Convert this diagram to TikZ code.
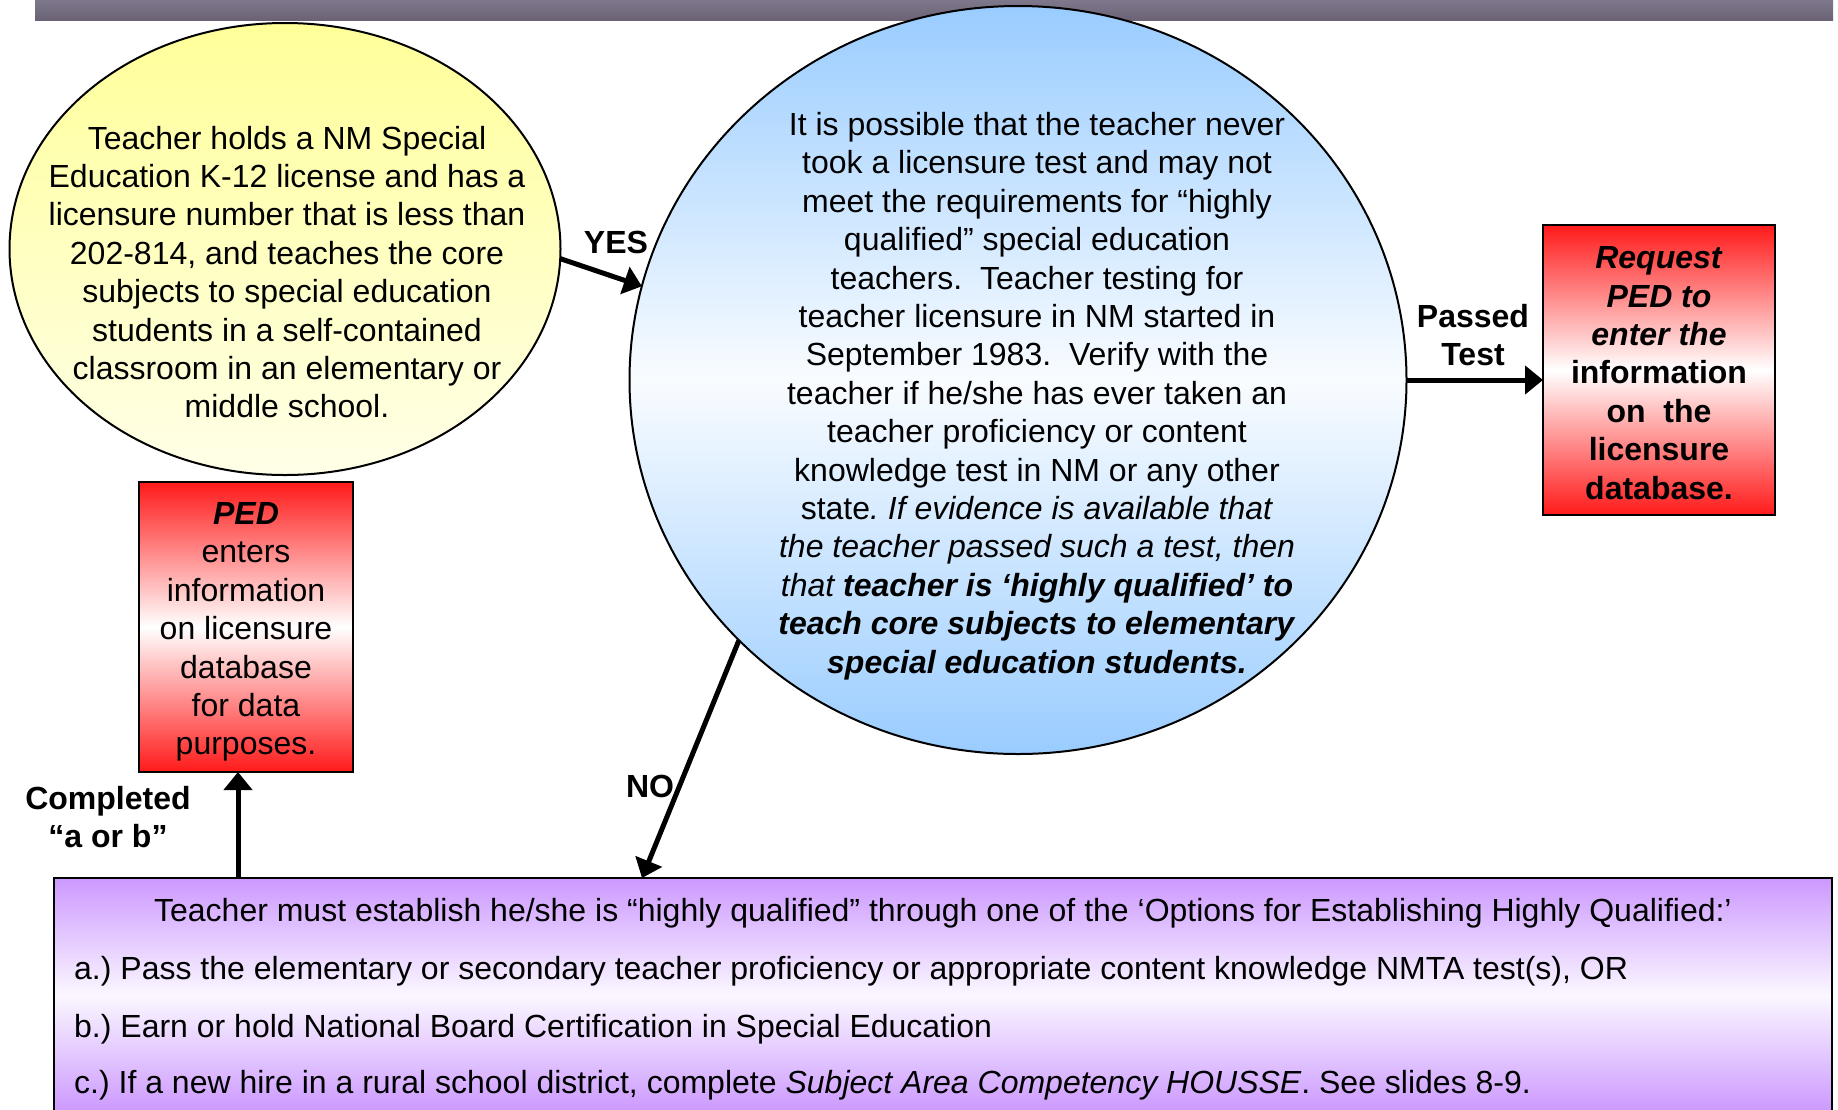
\documentclass[tikz,border=0pt]{standalone}
\usepackage{fontspec}
\setmainfont{Liberation Sans}
\usetikzlibrary{shapes.geometric,arrows.meta}
\definecolor{barTop}{HTML}{7F778B}
\definecolor{barBot}{HTML}{6B6375}
\definecolor{yelTop}{HTML}{FFFF99}
\definecolor{yelBot}{HTML}{FFFFE8}
\definecolor{bluFill}{HTML}{99CCFF}
\definecolor{redFill}{HTML}{FF1A1A}
\definecolor{purpFill}{HTML}{CC99FF}
\frenchspacing
\begin{document}
\begin{tikzpicture}[x=1pt,y=-1pt,
  txt/.style={font=\fontsize{32}{38.4}\selectfont, align=center, inner sep=0pt, outer sep=0pt},
  lbl/.style={font=\fontsize{32}{38.4}\selectfont\bfseries, align=center, inner sep=0pt},
  linetxt/.style={font=\fontsize{32}{38.4}\selectfont, inner sep=0pt},
  arr/.style={line width=5pt, -{Triangle[length=18pt,width=28pt]}},
  redbox/.style={rectangle, draw=black, line width=2.5pt, top color=redFill, bottom color=redFill, middle color=white, inner sep=0pt, outer sep=0pt}]
\useasboundingbox (0,0) rectangle (1838,1109);
% top bar
\node[rectangle, minimum width=1798pt, minimum height=20pt, top color=barTop, bottom color=barBot, inner sep=0pt, outer sep=0pt] (bar) at (934,10) {};
% yellow ellipse
\node[ellipse, draw=black, line width=2pt, minimum width=551pt, minimum height=452pt, top color=yelTop, bottom color=yelBot, inner sep=0pt, outer sep=0pt] (yel) at (285,249) {};
\node[txt] (yeltext) at (287,272) {Teacher holds a NM Special\\ Education K-12 license and has a\\ licensure number that is less than\\ 202-814, and teaches the core\\ subjects to special education\\ students in a self-contained\\ classroom in an elementary or\\ middle school.};
% blue circle
\node[ellipse, draw=black, line width=2pt, minimum width=777pt, minimum height=748pt, top color=bluFill, bottom color=bluFill, middle color=bluFill!6, inner sep=0pt, outer sep=0pt] (circ) at (1018,380) {};
\node[txt] (circtext) at (1037,396) {It is possible that the teacher never\\ took a licensure test and may not\\ meet the requirements for “highly\\ qualified” special education\\ teachers.\ \ Teacher testing for\\ teacher licensure in NM started in\\ September 1983.\ \ Verify with the\\ teacher if he/she has ever taken an\\ teacher proficiency or content\\ knowledge test in NM or any other\\ state\textit{. If evidence is available that}\\ \textit{the teacher passed such a test, then}\\ \textit{that \textbf{teacher is ‘highly qualified’ to}}\\ \textbf{\textit{teach core subjects to elementary}}\\ \textbf{\textit{special education students.}}};
% red boxes
\node[redbox, minimum width=232pt, minimum height=290pt] (reqbox) at (1659,370) {};
\node[txt] (reqtext) at (1659,373) {\textbf{\textit{Request}}\\ \textbf{\textit{PED to}}\\ \textbf{\textit{enter the}}\\ \textbf{information}\\ \textbf{on\ \ the}\\ \textbf{licensure}\\ \textbf{database.}};
\node[redbox, minimum width=214pt, minimum height=290pt] (pedbox) at (246,627) {};
\node[txt] (pedtext) at (246,632) {\textbf{\textit{PED}}\\ enters\\ information\\ on licensure\\ database\\ for data\\ purposes.};
% purple box
\node[rectangle, draw=black, line width=2pt, minimum width=1778pt, minimum height=234pt, top color=purpFill, bottom color=purpFill, middle color=white!92!purpFill, inner sep=0pt, outer sep=0pt] (opts) at (943,995) {};
\node[linetxt, anchor=base] (optHead) at (943,921) {Teacher must establish he/she is “highly qualified” through one of the ‘Options for Establishing Highly Qualified:’};
\node[linetxt, anchor=base west] (optA) at (74,979) {a.) Pass the elementary or secondary teacher proficiency or appropriate content knowledge NMTA test(s), OR};
\node[linetxt, anchor=base west] (optB) at (74,1037) {b.) Earn or hold National Board Certification in Special Education};
\node[linetxt, anchor=base west] (optC) at (74,1093) {c.) If a new hire in a rural school district, complete \textit{Subject Area Competency HOUSSE}. See slides 8-9.};
% connectors
\coordinate (noEnd) at (642,878);
\coordinate (compStart) at (238,878);
\draw[arr] (yel.-2.7) -- (circ.166.1);
\draw[arr] (circ.0.7) -- (reqbox.west |- circ.0.7);
\draw[arr] (circ.223.5) -- (noEnd);
\draw[arr] (compStart) -- (pedbox.south -| compStart);
% labels
\node[lbl] (yesLbl) at (616,242) {YES};
\node[lbl] (noLbl) at (650,786) {NO};
\node[lbl] (passLbl) at (1473,335) {Passed\\ Test};
\node[lbl] (compLbl) at (108,817) {Completed\\ “a or b”};
\end{tikzpicture}
\end{document}
